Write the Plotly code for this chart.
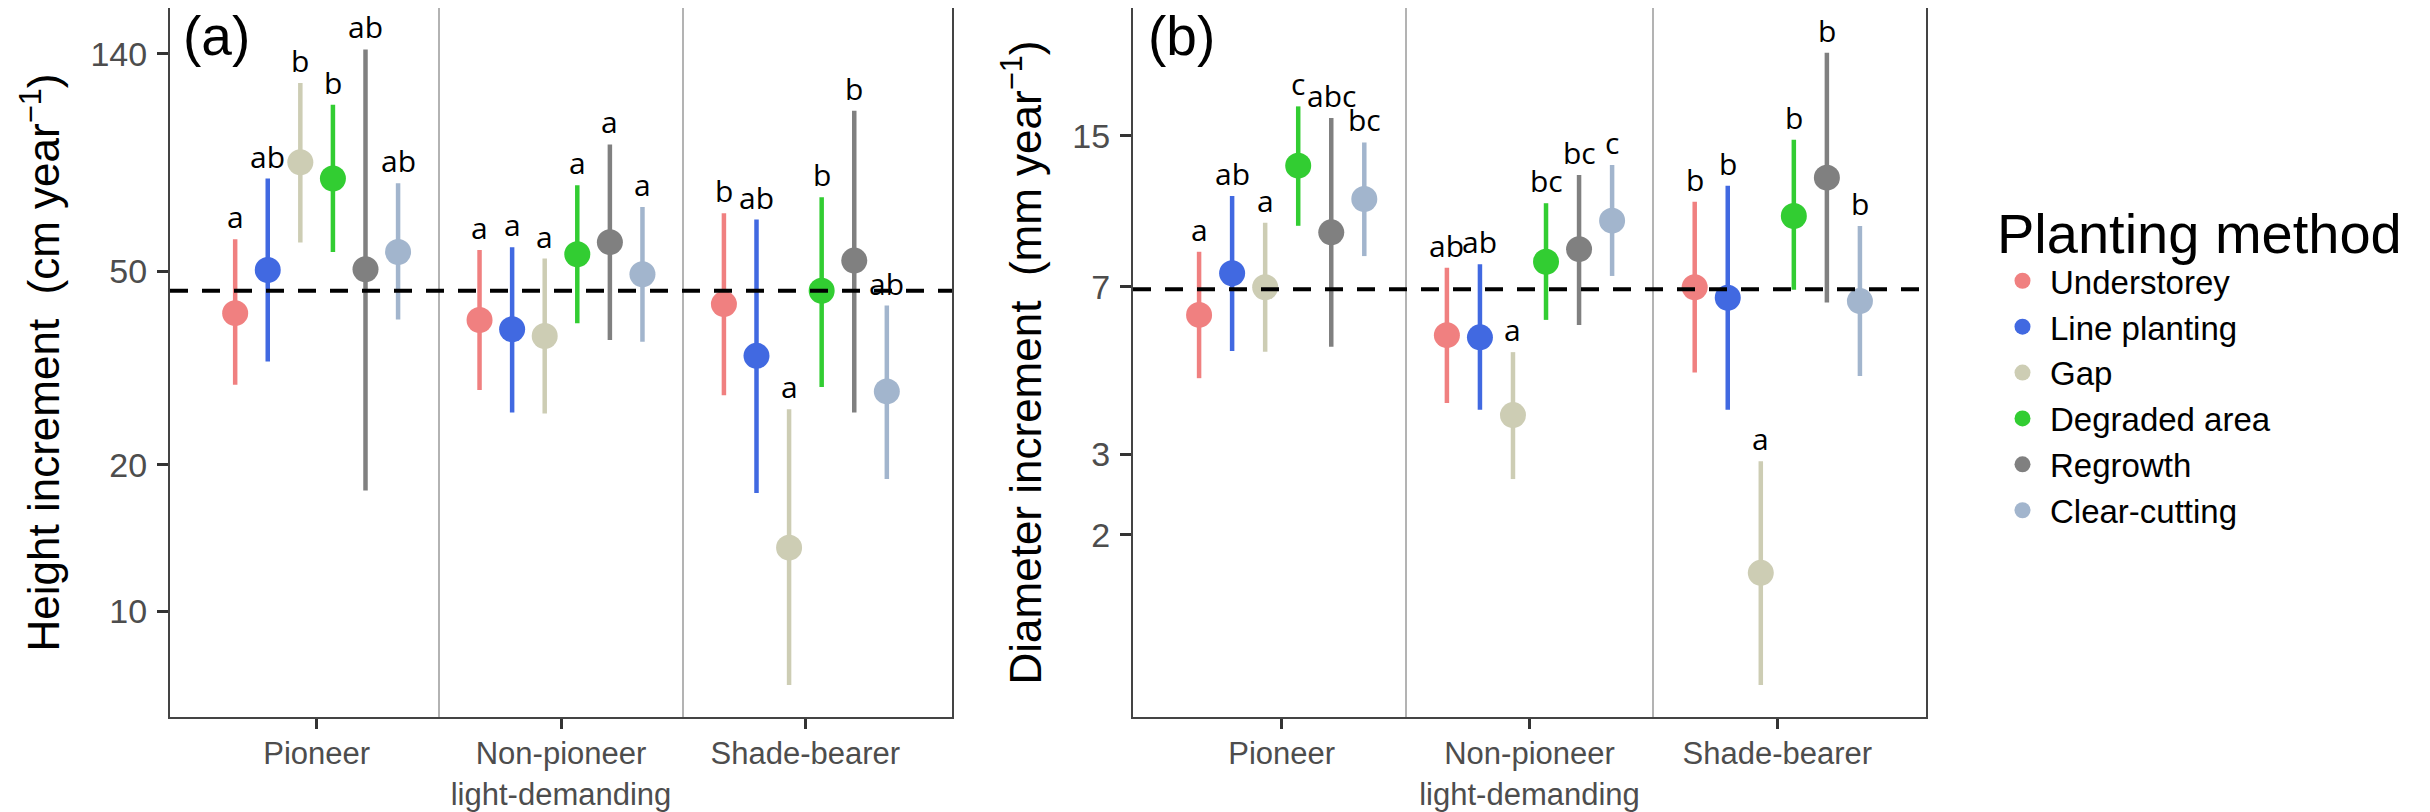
import numpy as np
import plotly.graph_objects as go

methods = ["Understorey", "Line planting", "Gap", "Degraded area", "Regrowth", "Clear-cutting"]
colors = ["#F08080", "#4169E1", "#CDCDB4", "#32CD32", "#808080", "#A2B5CD"]
groups = ["Pioneer", "Non-pioneer<br>light-demanding", "Shade-bearer"]

# Height increment (cm / year): per method, values for [Pioneer, Non-pioneer LD, Shade-bearer]
height_mean = {
    "Understorey": [41.0, 39.7, 42.8],
    "Line planting": [50.3, 38.0, 33.5],
    "Gap": [83.8, 36.8, 13.5],
    "Degraded area": [77.6, 54.2, 45.6],
    "Regrowth": [50.5, 57.4, 52.6],
    "Clear-cutting": [54.8, 49.3, 28.3],
}
height_upper = {
    "Understorey": [58.2, 55.3, 65.8],
    "Line planting": [77.6, 56.0, 63.9],
    "Gap": [122.0, 53.1, 26.0],
    "Degraded area": [110.0, 75.2, 71.0],
    "Regrowth": [143.0, 91.2, 107.0],
    "Clear-cutting": [75.9, 67.8, 42.5],
}
height_lower = {
    "Understorey": [29.2, 28.5, 27.8],
    "Line planting": [32.6, 25.6, 17.5],
    "Gap": [57.3, 25.5, 7.04],
    "Degraded area": [54.8, 39.1, 28.9],
    "Regrowth": [17.7, 36.1, 25.6],
    "Clear-cutting": [39.8, 35.8, 18.7],
}
height_letters = {
    "Understorey": ["a", "a", "b"],
    "Line planting": ["ab", "a", "ab"],
    "Gap": ["b", "a", "a"],
    "Degraded area": ["b", "a", "b"],
    "Regrowth": ["ab", "a", "b"],
    "Clear-cutting": ["ab", "a", "ab"],
}
height_ref = 45.6
height_ticks = [10, 20, 50, 140]

# Diameter increment (mm / year)
diam_mean = {
    "Understorey": [6.07, 5.48, 6.98],
    "Line planting": [7.49, 5.42, 6.62],
    "Gap": [6.98, 3.66, 1.65],
    "Degraded area": [12.9, 7.94, 10.0],
    "Regrowth": [9.21, 8.46, 12.14],
    "Clear-cutting": [10.9, 9.77, 6.51],
}
diam_upper = {
    "Understorey": [8.35, 7.70, 10.75],
    "Line planting": [11.06, 7.84, 11.66],
    "Gap": [9.67, 5.03, 2.90],
    "Degraded area": [17.4, 10.67, 14.7],
    "Regrowth": [16.4, 12.31, 22.8],
    "Clear-cutting": [14.5, 12.94, 9.51],
}
diam_lower = {
    "Understorey": [4.41, 3.89, 4.54],
    "Line planting": [5.06, 3.76, 3.76],
    "Gap": [5.04, 2.65, 0.937],
    "Degraded area": [9.52, 5.92, 6.89],
    "Regrowth": [5.17, 5.77, 6.46],
    "Clear-cutting": [8.17, 7.39, 4.46],
}
diam_letters = {
    "Understorey": ["a", "ab", "b"],
    "Line planting": ["ab", "ab", "b"],
    "Gap": ["a", "a", "a"],
    "Degraded area": ["c", "bc", "b"],
    "Regrowth": ["abc", "bc", "b"],
    "Clear-cutting": ["bc", "c", "b"],
}
diam_ref = 6.91
diam_ticks = [2, 3, 7, 15]

DODGE = 0.8
AXIS_FONT = "Liberation Sans, Arial, sans-serif"
LETTER_FONT = "Open Sans, Noto Sans, sans-serif"

# The page body has an 8px margin, so the figure is drawn 8px in from the top-left.
OFF = 8
W, H = 2430 - OFF, 812 - OFF

def px(X):
    return (X - OFF) / W

def py(Y):
    return 1 - (Y - OFF) / H

fig = go.Figure()
annotations = []

def add_panel(mean, upper, lower, letters, xa, ya, show_legend):
    n = len(methods)
    for i, m in enumerate(methods):
        off = (i - (n - 1) / 2) * DODGE / n
        xs = [g + 1 + off for g in range(len(groups))]
        mu = np.array(mean[m]); up = np.array(upper[m]); lo = np.array(lower[m])
        fig.add_trace(go.Scatter(
            x=xs, y=mu, mode="markers", name=m, showlegend=show_legend,
            xaxis=xa, yaxis=ya,
            marker=dict(color=colors[i], size=26, line=dict(width=0)),
            error_y=dict(type="data", symmetric=False, array=up - mu, arrayminus=mu - lo,
                         color=colors[i], thickness=4.5, width=0),
        ))
        for x, u, t in zip(xs, up, letters[m]):
            annotations.append(dict(
                x=x, y=float(np.log10(u)), xref=xa, yref=ya, text=t, showarrow=False,
                xanchor="center", yanchor="bottom", yshift=0,
                font=dict(family=LETTER_FONT, size=30, color="black"),
            ))

add_panel(height_mean, height_upper, height_lower, height_letters, "x", "y", True)
add_panel(diam_mean, diam_upper, diam_lower, diam_letters, "x2", "y2", False)

shapes = [
    dict(type="line", xref="x domain", yref="y", x0=0, x1=1, y0=height_ref, y1=height_ref,
         line=dict(color="black", width=4, dash="18px,14px")),
    dict(type="line", xref="x2 domain", yref="y2", x0=0, x1=1, y0=diam_ref, y1=diam_ref,
         line=dict(color="black", width=4, dash="18px,14px")),
]

for label, X in (("(a)", 216), ("(b)", 1181)):
    annotations.append(dict(x=px(X), y=py(36), xref="paper", yref="paper", text=label,
                            showarrow=False, xanchor="center", yanchor="middle",
                            font=dict(family=AXIS_FONT, size=55, color="black")))

YDOM = [py(717), min(1.0, py(7))]

def xaxis_cfg(X0, X1, anchor):
    return dict(
        domain=[px(X0), px(X1)], anchor=anchor, range=[0.4, 3.6],
        tickmode="array", tickvals=[1, 2, 3], ticktext=groups,
        showgrid=False, zeroline=False, showline=True, mirror=True, linecolor="#444444", linewidth=2,
        ticks="outside", ticklen=10, tickwidth=3, tickcolor="#333333", automargin=False,
        tickfont=dict(family=AXIS_FONT, size=31, color="#4d4d4d"), ticklabelstandoff=-2,
        minor=dict(tickmode="array", tickvals=[1.5, 2.5], showgrid=True, gridcolor="#b3b3b3",
                   gridwidth=1.5, ticklen=0),
    )

def yaxis_cfg(rng, ticks, title, anchor):
    return dict(
        type="log", range=rng, domain=YDOM, anchor=anchor,
        tickmode="array", tickvals=ticks, ticktext=[str(t) for t in ticks], automargin=False,
        showgrid=False, zeroline=False, showline=True, mirror=True, linecolor="#444444", linewidth=2,
        ticks="outside", ticklen=11, tickwidth=3, tickcolor="#333333",
        tickfont=dict(family=AXIS_FONT, size=34, color="#4d4d4d"), ticklabelstandoff=3,
        title=dict(text=title, font=dict(family=AXIS_FONT, size=44, color="black"), standoff=17),
    )

fig.update_layout(
    width=W, height=H, margin=dict(l=0, r=0, t=0, b=0, autoexpand=False),
    paper_bgcolor="white", plot_bgcolor="white",
    xaxis=xaxis_cfg(170, 952, "y"),
    yaxis=yaxis_cfg([0.7819, 2.2407], height_ticks,
                    "Height increment\u00a0\u00a0(cm year<sup>\u22121</sup>)", "x"),
    xaxis2=xaxis_cfg(1133, 1926, "y2"),
    yaxis2=yaxis_cfg([-0.0986, 1.4563], diam_ticks,
                     "Diameter increment\u00a0\u00a0(mm year<sup>\u22121</sup>)", "x2"),
    shapes=shapes, annotations=annotations,
    showlegend=True,
    legend=dict(
        x=px(1995), y=py(180), xanchor="left", yanchor="top",
        title=dict(text="Planting method", font=dict(family=AXIS_FONT, size=56, color="black")),
        font=dict(family=AXIS_FONT, size=33, color="black"), bgcolor="rgba(0,0,0,0)",
        itemsizing="trace", tracegroupgap=0, itemwidth=45,
    ),
)

fig.write_html("out.html")
